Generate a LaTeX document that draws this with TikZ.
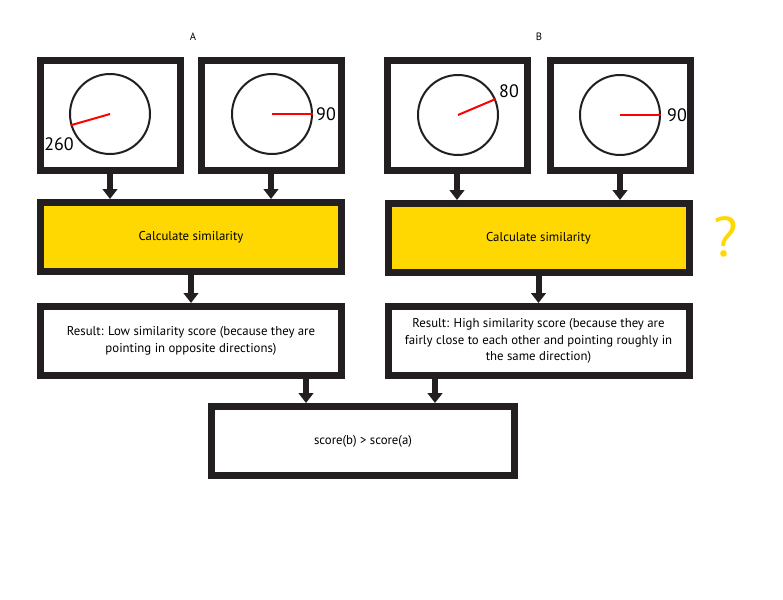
\documentclass[tikz,border=0pt]{standalone}
\usepackage{fontspec}
\setmainfont{PT Sans}
\usepackage{tikz}
\usetikzlibrary{positioning}
\usetikzlibrary{arrows.meta}
\definecolor{boxline}{RGB}{35,31,32}
\definecolor{calcyellow}{RGB}{254,216,0}

\begin{document}
\begin{tikzpicture}[x=0.75pt, y=-0.75pt,
  panel/.style={draw=boxline, line width=5.25pt, fill=white, inner sep=0pt, minimum width=105pt, minimum height=82.5pt},
  wide/.style={draw=boxline, line width=5.25pt, fill=white, inner sep=0pt, minimum width=225.75pt, minimum height=51.75pt, align=center, font=\fontsize{9.6}{12.5}\selectfont},
  calc/.style={wide, fill=calcyellow},
  dial/.style={circle, draw=boxline, line width=1.5pt, minimum size=60pt, inner sep=0pt},
  needle/.style={red, line width=1.5pt},
  num/.style={inner sep=0pt, font=\fontsize{13.5}{14}\selectfont},
  flow/.style={boxline, line width=4.5pt, -{Triangle[width=11pt, length=7.5pt]}}]
  \useasboundingbox (0,0) rectangle (783,600);

  \node[inner sep=0pt, font=\fontsize{8}{10}\selectfont] (labA) at (193,37) {A};
  \node[inner sep=0pt, font=\fontsize{8}{10}\selectfont] (labB) at (539,37) {B};

  % dial boxes
  \node[panel] (a1) at (110,115) {};
  \node[panel] (a2) at (271,115) {};
  \node[panel] (b1) at (457,115) {};
  \node[panel] (b2) at (620,115) {};

  \node[dial] (dA1) at (110,114) {};
  \node[dial] (dA2) at (272,114) {};
  \node[dial] (dB1) at (458,115) {};
  \node[dial] (dB2) at (620,115) {};

  \draw[needle] (dA1.center) -- (dA1.196);
  \draw[needle] (dA2.center) -- (dA2.0);
  \draw[needle] (dB1.center) -- (dB1.23);
  \draw[needle] (dB2.center) -- (dB2.0);

  \node[num] (nA1) at (59,144) {260};
  \node[num] (nA2) at (326,114) {90};
  \node[num] (nB1) at (509,91) {80};
  \node[num] (nB2) at (677,115) {90};

  \node[calc] (calcA) at (191,237) {Calculate similarity};
  \node[calc] (calcB) at (538.5,238) {Calculate similarity};
  \node[inner sep=0pt, text=calcyellow, font=\fontsize{42}{42}\selectfont] (quest) at (726,237) {?};

  \node[wide] (resA) at (191,341) {Result: Low similarity score (because they are\\pointing in opposite directions)};
  \node[wide] (resB) at (538.5,341) {Result: High similarity score (because they are\\fairly close to each other and pointing roughly in\\the same direction)};

  \node[wide, minimum width=227.25pt] (final) at (363,441) {score(b) > score(a)};

  \coordinate (tA) at (306,0);
  \coordinate (tB) at (435,0);

  \draw[flow] (a1.south) -- (a1.south |- calcA.north);
  \draw[flow] (a2.south) -- (a2.south |- calcA.north);
  \draw[flow] (b1.south) -- (b1.south |- calcB.north);
  \draw[flow] (b2.south) -- (b2.south |- calcB.north);
  \draw[flow] (calcA.south) -- (resA.north);
  \draw[flow] (calcB.south) -- (resB.north);
  \draw[flow] (resA.south -| tA) -- (final.north -| tA);
  \draw[flow] (resB.south -| tB) -- (final.north -| tB);
\end{tikzpicture}
\end{document}
